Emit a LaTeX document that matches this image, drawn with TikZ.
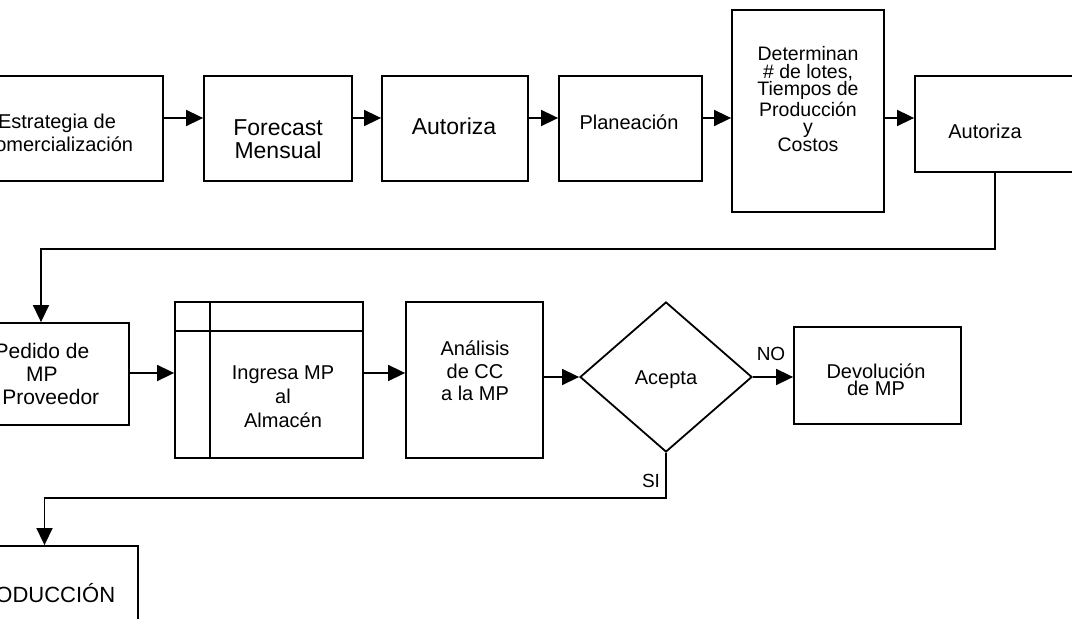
\documentclass[tikz,border=0pt]{standalone}
\usepackage{fontspec}
\setmainfont{Liberation Sans}
\usetikzlibrary{arrows.meta,shapes.geometric}
\tikzset{
  box/.style={draw,line width=0.9pt,inner sep=0pt,rectangle},
  conn/.style={line width=0.8pt},
  arr/.style={conn,-{Triangle[length=8.5pt,width=8pt]}},
  txt/.style={align=center,inner sep=0pt,font=\fontsize{10}{11.25}\selectfont},
  big/.style={align=center,inner sep=0pt,font=\fontsize{11.5}{11.25}\selectfont},
  lab/.style={inner sep=0pt,font=\fontsize{9.5}{10}\selectfont}
}
\begin{document}
\begin{tikzpicture}[x=0.5pt,y=-0.5pt]
\useasboundingbox (0,0) rectangle (1072,619);
\fill[white] (0,0) rectangle (1072,619);
\clip (0,0) rectangle (1072,619);
% row 1
\node[box,minimum width=101pt,minimum height=52.5pt] (b1) at (62,128.5) {};
\node[box,minimum width=74pt,minimum height=52.5pt] (b2) at (278,128.5) {};
\node[box,minimum width=73pt,minimum height=52.5pt] (b3) at (455,128.5) {};
\node[box,minimum width=71.5pt,minimum height=52.5pt] (b4) at (630.5,128.5) {};
\node[box,minimum width=76pt,minimum height=101pt] (b5) at (808,111) {};
\node[box,minimum width=87.5pt,minimum height=48pt] (b6) at (1002.5,124) {};
\node[txt] (t1) at (57,133) {Estrategia de\\Comercialización};
\node[big] (t2) at (278,139) {Forecast\\Mensual};
\node[big] (t3) at (454,126) {Autoriza};
\node[txt] (t4) at (629,122) {Planeación};
\node[txt,font=\fontsize{9.75}{8.85}\selectfont] (t5) at (808,99) {Determinan\\\# de lotes,\\Tiempos de\\Producción\\y\\Costos};
\node[txt] (t6) at (985,131) {Autoriza};
% row 2
\node[box,minimum width=88pt,minimum height=51pt] (p1) at (41,374) {};
\node[box,minimum width=94pt,minimum height=78pt] (ing) at (269,380) {};
\draw[line width=0.9pt] ([xshift=18pt]ing.north west) -- ([xshift=18pt]ing.south west);
\draw[line width=0.9pt] ([yshift=-15pt]ing.north west) -- ([yshift=-15pt]ing.north east);
\node[box,minimum width=68.5pt,minimum height=78pt] (ana) at (474.5,380) {};
\node[draw,line width=0.9pt,diamond,inner sep=0pt,minimum width=86pt,minimum height=75pt] (dia) at (666,377) {};
\node[box,minimum width=83.5pt,minimum height=48.5pt] (dev) at (877.5,375.5) {};
\node[box,minimum width=93.5pt,minimum height=57pt] (prod) at (44.5,603) {};
\node[txt,font=\fontsize{10.5}{11.5}\selectfont] (tp1) at (42,374) {Pedido de\\MP\\\phantom{a }Proveedor};
\node[txt,font=\fontsize{10}{12}\selectfont] (ting) at (283,397) {Ingresa MP\\al\\Almacén};
\node[txt] (tana) at (475,371) {Análisis\\de CC\\a la MP};
\node[txt] (tdia) at (666,380) {Acepta};
\node[txt,font=\fontsize{10}{8.5}\selectfont] (tdev) at (876,380) {Devolución\\de MP};
\node[txt,font=\fontsize{11}{11}\selectfont] (tprod) at (40,593) {PRODUCCIÓN};
% connectors row 1
\coordinate (r1) at (0,118);
\draw[arr] (b1.east |- r1) -- (b2.west |- r1);
\draw[arr] (b2.east |- r1) -- (b3.west |- r1);
\draw[arr] (b3.east |- r1) -- (b4.west |- r1);
\draw[arr] (b4.east |- r1) -- (b5.west |- r1);
\draw[arr] (b5.east |- r1) -- (b6.west |- r1);
% link down
\coordinate (k1) at (995,249);
\draw[arr] (b6.south -| k1) -- (k1) -| (p1.north);
% row 2
\coordinate (r2) at (0,373);
\draw[arr] (p1.east |- r2) -- (ing.west |- r2);
\draw[arr] (ing.east |- r2) -- (ana.west |- r2);
\draw[arr] (ana.east |- dia.west) -- (dia.west);
\draw[arr] (dia.east) -- (dev.west |- dia.east);
\node[lab] (no) at (771,354) {NO};
\coordinate (k2) at (666,498);
\draw[arr] (dia.south) -- (k2) -| (prod.north);
\node[lab] (si) at (651,481) {SI};
\end{tikzpicture}
\end{document}
